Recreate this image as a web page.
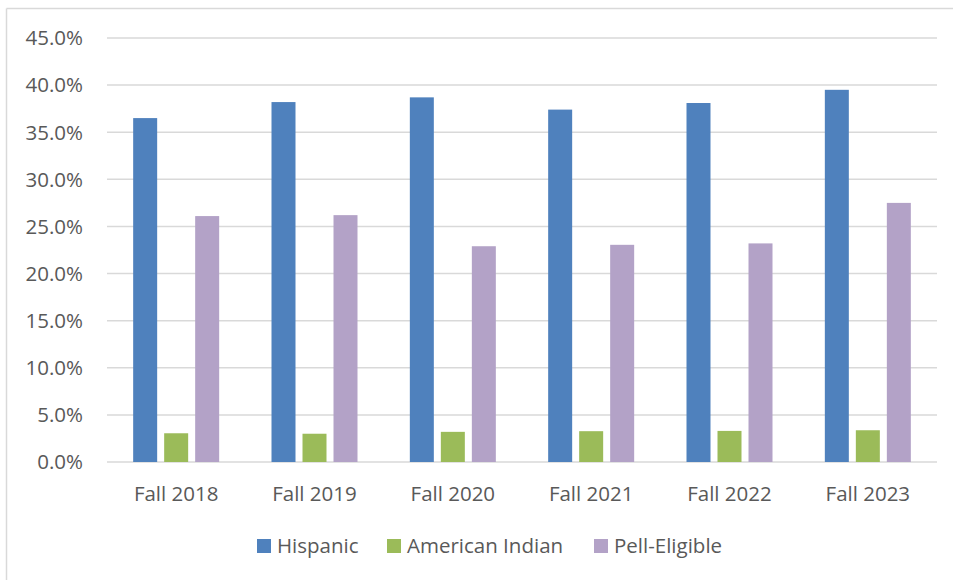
<!DOCTYPE html>
<html>
<head>
<meta charset="utf-8">
<script src="https://cdn.jsdelivr.net/npm/d3@7"></script>
<style>
  html, body { margin: 0; padding: 0; background: #fff; }
  svg text { font-family: "Open Sans", sans-serif; fill: #595959; font-size: 20.5px; }
</style>
</head>
<body>
<div id="chart"></div>
<script>
// data
const terms = ['Fall 2018', 'Fall 2019', 'Fall 2020', 'Fall 2021', 'Fall 2022', 'Fall 2023']
const seriesNames = ['Hispanic', 'American Indian', 'Pell-Eligible']
const hispanic = [36.5, 38.2, 38.7, 37.4, 38.1, 39.5]
const americanIndian = [3.05, 3.0, 3.2, 3.27, 3.3, 3.37]
const pellEligible = [26.1, 26.2, 22.9, 23.05, 23.2, 27.5]
const yTicks = [0, 5, 10, 15, 20, 25, 30, 35, 40, 45]

const colors = ['#4F81BD', '#9BBB59', '#B3A2C7']
const values = [hispanic, americanIndian, pellEligible]

const width = 953
const height = 580
const margin = { top: 38, right: 16, bottom: 118, left: 107 }

const svg = d3
  .select('#chart')
  .append('svg')
  .attr('width', width)
  .attr('height', height)

// chart frame (only top and left edges show in the picture)
svg.append('line')
  .attr('x1', 6.5).attr('x2', width).attr('y1', 8.5).attr('y2', 8.5)
  .attr('stroke', '#d9d9d9').attr('stroke-width', 1.5)
svg.append('line')
  .attr('x1', 6.5).attr('x2', 6.5).attr('y1', 8.5).attr('y2', height)
  .attr('stroke', '#d9d9d9').attr('stroke-width', 1.5)

const x = d3
  .scaleBand()
  .domain(terms)
  .range([margin.left, width - margin.right])

const inner = d3
  .scaleBand()
  .domain(seriesNames)
  .range([0, x.bandwidth()])
  .paddingInner(0.226)
  .paddingOuter(0.844)

const y = d3
  .scaleLinear()
  .domain([0, 45])
  .range([height - margin.bottom, margin.top])

// gridlines
svg.append('g')
  .selectAll('line')
  .data(yTicks)
  .join('line')
  .attr('x1', margin.left)
  .attr('x2', width - margin.right)
  .attr('y1', d => y(d))
  .attr('y2', d => y(d))
  .attr('stroke', '#d9d9d9')
  .attr('stroke-width', 1.5)

// y labels
svg.append('g')
  .selectAll('text')
  .data(yTicks)
  .join('text')
  .attr('x', 83)
  .attr('y', d => y(d))
  .attr('dy', '0.36em')
  .attr('text-anchor', 'end')
  .text(d => d.toFixed(1) + '%')

// bars
const groups = svg.append('g')
  .selectAll('g')
  .data(terms)
  .join('g')
  .attr('transform', d => `translate(${x(d)},0)`)

groups.selectAll('rect')
  .data((d, i) => seriesNames.map((s, j) => ({ series: s, value: values[j][i], color: colors[j] })))
  .join('rect')
  .attr('x', d => inner(d.series))
  .attr('width', inner.bandwidth())
  .attr('y', d => y(d.value))
  .attr('height', d => y(0) - y(d.value))
  .attr('fill', d => d.color)

// x labels
svg.append('g')
  .selectAll('text')
  .data(terms)
  .join('text')
  .attr('x', d => x(d) + x.bandwidth() / 2)
  .attr('y', 501)
  .attr('text-anchor', 'middle')
  .text(d => d)

// legend
const legendX = [257, 387, 594]
const legend = svg.append('g')
  .selectAll('g')
  .data(seriesNames)
  .join('g')
  .attr('transform', (d, i) => `translate(${legendX[i]},546)`)

legend.append('rect')
  .attr('x', 0)
  .attr('y', -7)
  .attr('width', 14)
  .attr('height', 14)
  .attr('fill', (d, i) => colors[i])

legend.append('text')
  .attr('x', 20)
  .attr('dy', '0.36em')
  .text(d => d)
</script>
</body>
</html>
